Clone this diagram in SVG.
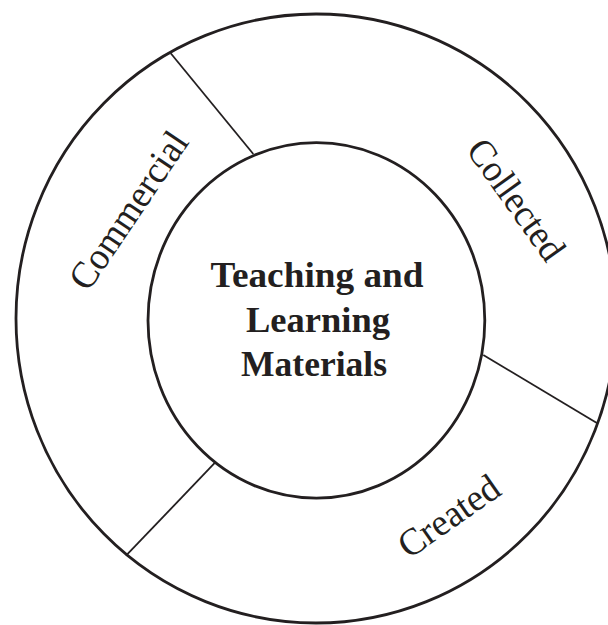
<svg xmlns="http://www.w3.org/2000/svg" width="608" height="625" viewBox="0 0 608 625">
<style>
.ring{fill:none;stroke:#231f20;stroke-width:2.8}
.div{stroke:#231f20;stroke-width:1.8;fill:none}
.lbl{font-family:"Liberation Serif","Times New Roman",serif;fill:#231f20;font-size:38px;text-anchor:middle}
.ctr{font-family:"Liberation Serif","Times New Roman",serif;fill:#231f20;font-size:35px;font-weight:bold;text-anchor:middle}
</style>
<rect width="608" height="625" fill="#ffffff"/>
<g id="outer-ring">
<ellipse class="ring" cx="316" cy="318.5" rx="300" ry="304.5"/>
</g>
<g id="connectors">
<line class="div" x1="170.7" y1="53.3" x2="253.3" y2="154"/>
<line class="div" x1="483.3" y1="355" x2="597.3" y2="423.3"/>
<line class="div" x1="215" y1="462.7" x2="126" y2="555.7"/>
</g>
<g id="center">
<ellipse class="ring" cx="316.4" cy="320.4" rx="168.4" ry="177.7"/>
<text class="ctr" x="317" y="287" textLength="213" lengthAdjust="spacingAndGlyphs">Teaching and</text>
<text class="ctr" x="318" y="332" textLength="144" lengthAdjust="spacingAndGlyphs">Learning</text>
<text class="ctr" x="314" y="376" textLength="146" lengthAdjust="spacingAndGlyphs">Materials</text>
</g>
<g id="commercial">
<text class="lbl" transform="translate(139,217.4) rotate(-56)" textLength="182" lengthAdjust="spacingAndGlyphs">Commercial</text>
</g>
<g id="collected">
<text class="lbl" transform="translate(506,207) rotate(54.5)" textLength="140" lengthAdjust="spacingAndGlyphs">Collected</text>
</g>
<g id="created">
<text class="lbl" transform="translate(456,526.5) rotate(-35)" textLength="115" lengthAdjust="spacingAndGlyphs">Created</text>
</g>
</svg>
